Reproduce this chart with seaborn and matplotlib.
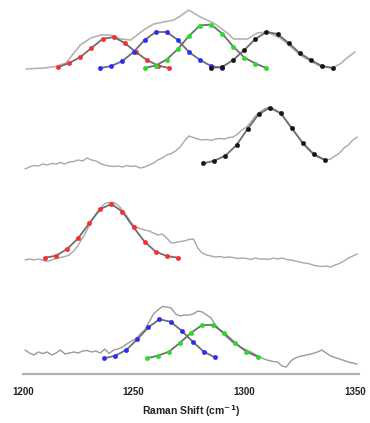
import numpy as np
import pandas as pd
import matplotlib
matplotlib.use("Agg")
import matplotlib.pyplot as plt
import seaborn as sns

sns.set_theme(style="white")
plt.rcParams['font.family'] = ['Liberation Sans', 'DejaVu Sans']

# ---------------- data (intensity in arbitrary stacked units) ----------------
# top trace (sum spectrum)
top_x = [1201.5, 1209.6, 1215, 1219.5, 1226, 1230.7, 1235.2, 1239.7, 1244.2, 1248.7,
         1254.6, 1259.1, 1263.6, 1268.1, 1271.2, 1274.8, 1280.2, 1286.1, 1292.4, 1295.1,
         1301.4, 1305.9, 1310.4, 1316.2, 1320.7, 1325.2, 1329.7, 1334.2, 1339.6, 1343.2,
         1346.9, 1350]
top_y = [305, 306, 307.5, 311, 329, 336, 339, 339, 335, 334,
         344, 350, 352, 354, 358, 364, 357, 351, 341, 335,
         335, 341, 342, 336, 328, 319, 313, 308, 306, 310,
         317, 322]

fit1_red_x = [1216, 1221, 1226, 1231, 1236, 1241, 1246, 1251, 1256, 1261, 1266]
fit1_red_y = [307, 311, 317, 326, 335, 337, 331, 322, 314, 308.5, 306]
fit1_blue_x = [1235, 1240, 1245, 1250, 1255, 1260, 1265, 1270, 1275, 1280, 1285, 1290]
fit1_blue_y = [306, 308, 313, 322, 334, 342, 342, 334, 322, 314, 308, 306]
fit1_green_x = [1255, 1260, 1265, 1270, 1275, 1280, 1285, 1290, 1295, 1300, 1305, 1310]
fit1_green_y = [306, 308.5, 314.5, 325, 338, 348.5, 349.5, 340.5, 327.5, 316.5, 310.5, 306]
fit1_black_x = [1285, 1290, 1295, 1300, 1305, 1310, 1315, 1320, 1325, 1330, 1335, 1340]
fit1_black_y = [306, 307, 314, 324, 335, 342, 340, 331, 321, 314, 308, 306]

# common grid for the three measured traces
grid_x = list(range(1201, 1352, 2))

spec2_y = [205, 207, 208.5, 208, 210, 209, 210.5, 210, 211.5, 210,
           212, 212.5, 214, 213, 216, 214, 213, 210.5, 209, 208,
           207.5, 208, 207, 208.5, 207.5, 208, 206, 207, 209, 211,
           214, 216, 219, 220.5, 223, 227, 233, 238, 236.5, 235,
           234, 234.5, 233.5, 235, 235.5, 235, 236.5, 237, 240, 244,
           247, 252, 258, 262, 265, 266.5, 265.5, 263, 259, 253,
           247, 241, 235, 229, 224, 220, 217, 215, 214, 215,
           218, 221, 226, 229, 234, 237]
fit2_black_x = [1281.5, 1286.5, 1291.5, 1296.5, 1301.5, 1306.5, 1311.5, 1316.5,
                1321.5, 1326.5, 1331.5, 1336.5]
fit2_black_y = [210.7, 213.3, 218.3, 229, 245, 259.7, 266.3, 260.7, 245.7, 230.7, 219.7, 214]

spec3_y = [114, 115, 114, 115, 114, 112.5, 114, 115.5, 116.5, 117.5,
           119, 123, 129, 136, 144, 153, 160, 166, 170.5, 171.5,
           171.5, 169, 164, 158, 151, 147, 145.5, 144, 143, 141,
           139, 140, 136, 131, 131.5, 132.5, 133, 134.5, 135, 126,
           121, 119, 118, 117, 117.5, 116.5, 117, 116.5, 115.5, 116,
           115.5, 114.5, 116, 115, 115, 114.5, 116, 115, 116, 114.5,
           114, 113, 112, 111, 110.5, 109, 108, 107.5, 108, 107,
           109, 110.5, 113, 116, 118, 120]
fit3_red_x = [1210, 1215, 1220, 1225, 1230, 1235, 1240, 1245, 1250, 1255, 1260, 1265, 1270]
fit3_red_y = [116.3, 118.3, 125, 135.7, 150.7, 165, 170, 162.3, 146.7, 132.3, 122.3, 118, 116.3]

spec4_y = [24, 21, 19, 22, 20.5, 22, 19, 21, 24, 20,
           21, 22, 21, 23, 23.5, 22, 23, 21, 25, 20.5,
           24, 25, 27, 30, 33, 35, 40, 44, 52, 60,
           64, 67.5, 67, 66, 60, 58, 59, 59, 60, 63,
           62, 59, 56, 49, 44, 39, 35, 31, 29, 26,
           24, 22, 19.5, 17, 15, 13.5, 12.5, 12, 8, 7,
           13, 16, 17.5, 18.5, 19.5, 20.5, 22, 24, 21, 18,
           16.5, 15, 13.5, 12, 11, 10]
fit4_blue_x = [1236.7, 1241.7, 1246.7, 1251.7, 1256.7, 1261.7, 1266.7, 1271.7, 1276.7,
               1281.7, 1286.7]
fit4_blue_y = [15.7, 18.3, 24, 34.7, 46.7, 54.7, 52.3, 43.3, 32.3, 22.3, 16.7]
fit4_green_x = [1256, 1261, 1266, 1271, 1276, 1281, 1286, 1291, 1296, 1301, 1306]
fit4_green_y = [15.7, 18.3, 22.3, 31.3, 41.3, 49, 49, 40.7, 30.7, 22.3, 17.3]

x_ticks = [1200, 1250, 1300, 1350]
x_label = "Raman Shift (cm$^{\\mathbf{-1}}$)"

# ---------------- figure ----------------
W, H = 370, 423
fig = plt.figure(figsize=(W / 100, H / 100), dpi=100)
x0, x1 = 1200.5, 1352
left_px = 21.7 + (x0 - 1200) * 2.222
right_px = 21.7 + (x1 - 1200) * 2.222
ax = fig.add_axes([left_px / W, (H - 374) / H, (right_px - left_px) / W, 374 / H])

spec_color = "#a8a8a8"
fit_line = "#6e6e6e"


def trace(x, y, lw=1.0, color=spec_color):
    sns.lineplot(x=x, y=y, ax=ax, color=color, lw=lw, sort=False, estimator=None)


def fit(x, y, mcolor):
    sns.lineplot(x=x, y=y, ax=ax, color=fit_line, lw=1.3, sort=False, estimator=None,
                 marker="o", markersize=3.2, markerfacecolor=mcolor,
                 markeredgecolor=mcolor, markeredgewidth=0.3)


trace(top_x, top_y, lw=1.2, color="#b4b4b4")
fit(fit1_red_x, fit1_red_y, "#ff2a2a")
fit(fit1_blue_x, fit1_blue_y, "#2a2aff")
fit(fit1_green_x, fit1_green_y, "#22e022")
fit(fit1_black_x, fit1_black_y, "#151515")

trace(grid_x, spec2_y)
fit(fit2_black_x, fit2_black_y, "#151515")

trace(grid_x, spec3_y)
fit(fit3_red_x, fit3_red_y, "#ff2a2a")

trace(grid_x, spec4_y, color="#9a9a9a")
fit(fit4_blue_x, fit4_blue_y, "#2a2aff")
fit(fit4_green_x, fit4_green_y, "#22e022")

ax.set_xlim(x0, x1)
ax.set_ylim(0, 374)
ax.set_yticks([])
ax.set_xticks(x_ticks)
ax.set_xticklabels([str(t) for t in x_ticks], fontsize=7, fontweight="bold", color="#222222")
ax.tick_params(axis="x", length=0, pad=9)
for s in ["top", "left", "right"]:
    ax.spines[s].set_visible(False)
ax.spines["bottom"].set_color("#b0b0b0")
ax.spines["bottom"].set_linewidth(1.6)
ax.set_xlabel(x_label, fontsize=7.5, fontweight="bold", color="#222222", labelpad=5)
ax.set_ylabel("")
ax.patch.set_alpha(0)

fig.savefig("out.png", dpi=100)
